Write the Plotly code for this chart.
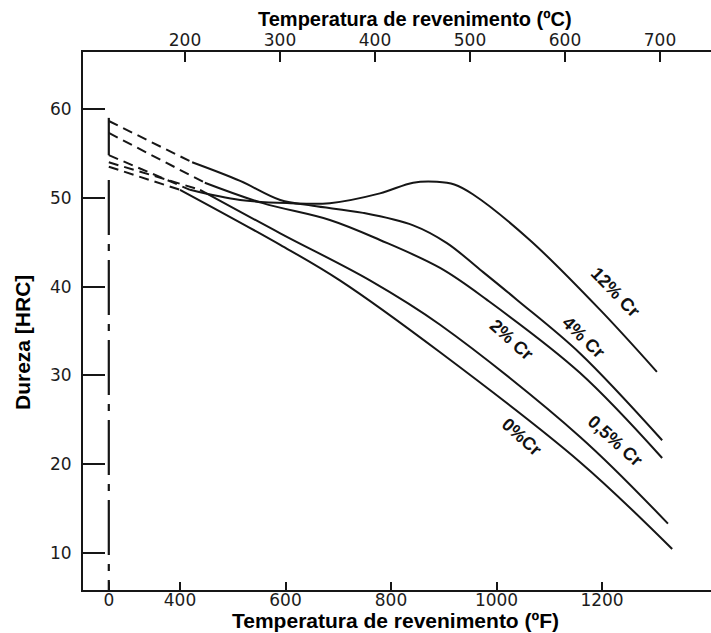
import plotly.graph_objects as go

# ---------------- data ----------------
AS_QUENCHED_F = 265          # where the "0" (as-quenched) state sits on the °F scale
AQ_LINE_TOP_HRC = 59.0       # top of the solid as-quenched marker

cr12_f   = [265, 419, 514, 609, 684, 779, 842, 887, 920, 955, 1063, 1196, 1304]
cr12_hrc = [54.8, 50.9, 49.75, 49.4, 49.4, 50.5, 51.7, 51.8, 51.5, 50.4, 45.25, 37.4, 30.4]

cr4_f    = [265, 423, 514, 590, 652, 747, 842, 906, 969, 1039, 1158, 1314]
cr4_hrc  = [58.65, 54.0, 51.9, 49.75, 49.1, 48.3, 46.9, 44.9, 41.9, 38.5, 32.5, 22.7]

cr2_f    = [265, 447, 557, 684, 779, 893, 982, 1158, 1314]
cr2_hrc  = [57.3, 51.7, 49.4, 47.5, 45.25, 42.1, 38.5, 30.3, 20.7]

cr05_f   = [265, 438, 590, 760, 893, 1158, 1325]
cr05_hrc = [54.0, 50.9, 46.0, 40.7, 35.7, 23.1, 13.3]

cr0_f    = [265, 400, 590, 703, 893, 1158, 1333]
cr0_hrc  = [53.5, 50.9, 44.7, 40.7, 32.6, 20.25, 10.45]

series = [
    ("12% Cr", cr12_f, cr12_hrc),
    ("4% Cr", cr4_f, cr4_hrc),
    ("2% Cr", cr2_f, cr2_hrc),
    ("0,5% Cr", cr05_f, cr05_hrc),
    ("0%Cr", cr0_f, cr0_hrc),
]

# curve labels: text, °F, HRC, angle
label_text  = ["12% Cr", "4% Cr", "2% Cr", "0,5% Cr", "0%Cr"]
label_f     = [1225, 1164, 1029, 1225, 1048]
label_hrc   = [39.4, 34.3, 34.0, 22.6, 23.1]
label_angle = [46, 44, 42, 42, 42]

f_tick_vals = [AS_QUENCHED_F, 400, 600, 800, 1000, 1200]
f_tick_text = ["0", "400", "600", "800", "1000", "1200"]
c_tick_vals = [200, 300, 400, 500, 600, 700]
y_tick_vals = [10, 20, 30, 40, 50, 60]

F_RANGE = [216.1, 1406.6]
C_RANGE = [92.6, 753.7]
Y_RANGE = [5.83, 66.42]

INK = "#161616"
TICKFONT = dict(family="DejaVu Sans", size=17, color="#1c1c1c")
BOLD = "Liberation Sans, Arial, sans-serif"

fig = go.Figure()

# as-quenched marker: solid top part and dash-dot down to the axis
start_low = min(h[0] for _, _, h in series)
start_12 = cr12_hrc[0]
fig.add_trace(go.Scatter(x=[AS_QUENCHED_F, AS_QUENCHED_F], y=[AQ_LINE_TOP_HRC, start_12],
                         mode="lines", line=dict(color=INK, width=2.2), hoverinfo="skip"))
fig.add_trace(go.Scatter(x=[AS_QUENCHED_F, AS_QUENCHED_F], y=[start_low - 1.5, Y_RANGE[0]],
                         mode="lines", line=dict(color=INK, width=2.2, dash="55px,9px,7px,9px"),
                         hoverinfo="skip"))

for name, fx, hy in series:
    # dashed extrapolation from the as-quenched state
    fig.add_trace(go.Scatter(x=fx[:2], y=hy[:2], mode="lines",
                             line=dict(color=INK, width=2, dash="10px,6px"), hoverinfo="skip"))
    # measured curve
    fig.add_trace(go.Scatter(x=fx[1:], y=hy[1:], mode="lines", name=name,
                             line=dict(color=INK, width=2, shape="spline", smoothing=1.0)))

# invisible trace to activate the °C axis
fig.add_trace(go.Scatter(x=C_RANGE, y=[None, None], xaxis="x2", mode="lines",
                         showlegend=False, hoverinfo="skip"))

for t, fx, hy, ang in zip(label_text, label_f, label_hrc, label_angle):
    fig.add_annotation(x=fx, y=hy, text=t, showarrow=False, textangle=ang,
                       xanchor="center", yanchor="middle",
                       font=dict(family=BOLD, size=18, color="#111111", weight="bold"))

L, R, T, B = 83, 0, 52, 43
W, H = 711, 633
pw, ph = W - L - R, H - T - B

def px_to_paper(px, py):
    return (px - L) / pw, (H - B - py) / ph

tx, ty = px_to_paper(415, 19)
fig.add_annotation(xref="paper", yref="paper", x=tx, y=ty, xanchor="center", yanchor="middle",
                   text="Temperatura de revenimento (ºC)", showarrow=False,
                   font=dict(family=BOLD, size=20, color="#000000", weight="bold"))
bx, by = px_to_paper(395, 620)
fig.add_annotation(xref="paper", yref="paper", x=bx, y=by, xanchor="center", yanchor="middle",
                   text="Temperatura de revenimento (ºF)", showarrow=False,
                   font=dict(family=BOLD, size=21, color="#000000", weight="bold"))
yx, yy = px_to_paper(22, 342)
fig.add_annotation(xref="paper", yref="paper", x=yx, y=yy, xanchor="center", yanchor="middle",
                   text="Dureza [HRC]", textangle=-90, showarrow=False,
                   font=dict(family=BOLD, size=21, color="#000000", weight="bold"))

fig.update_layout(
    width=W, height=H, autosize=False,
    margin=dict(l=L, r=R, t=T, b=B, pad=0),
    paper_bgcolor="white", plot_bgcolor="white",
    showlegend=False,
    xaxis=dict(range=F_RANGE, tickmode="array", tickvals=f_tick_vals, ticktext=f_tick_text,
               ticks="inside", ticklen=8, tickwidth=2, tickcolor=INK,
               showline=True, linecolor=INK, linewidth=2, showgrid=False, zeroline=False,
               tickfont=TICKFONT, ticklabelstandoff=-6),
    xaxis2=dict(range=C_RANGE, overlaying="x", side="top", tickmode="array", tickvals=c_tick_vals,
                ticks="inside", ticklen=10, tickwidth=2, tickcolor=INK,
                showline=True, linecolor=INK, linewidth=2, showgrid=False, zeroline=False,
                tickfont=TICKFONT, ticklabelstandoff=-3),
    yaxis=dict(range=Y_RANGE, tickmode="array", tickvals=y_tick_vals,
               ticks="inside", ticklen=22, tickwidth=2, tickcolor=INK,
               showline=True, linecolor=INK, linewidth=2, showgrid=False, zeroline=False,
               tickfont=TICKFONT, ticklabelstandoff=6),
)

fig.write_html("out.html")
